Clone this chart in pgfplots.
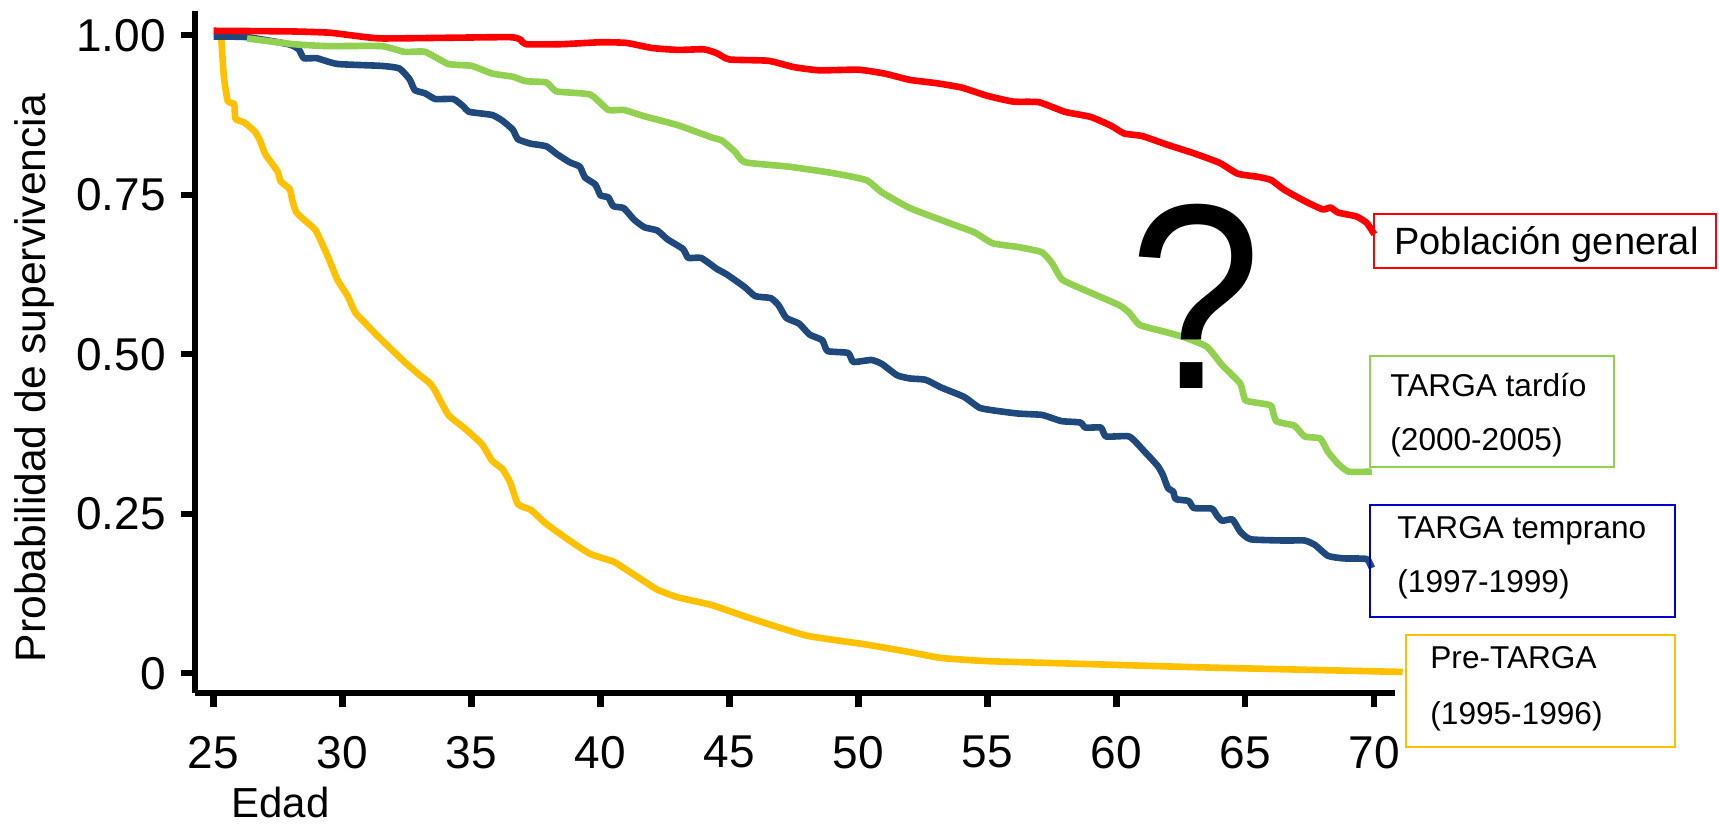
\documentclass[border=0pt]{standalone}
\usepackage{fontspec}
\setmainfont{Liberation Sans}
\usepackage{pgfplots}
\pgfplotsset{compat=1.18}
\definecolor{cred}{HTML}{FF0000}
\definecolor{cgreen}{HTML}{92D050}
\definecolor{cblue}{HTML}{1F497D}
\definecolor{cyellow}{HTML}{FFC000}
\definecolor{bblue}{HTML}{0000CC}
\begin{document}
\begin{tikzpicture}
\path[use as bounding box] (-97.5pt,-70.5pt) rectangle (762pt,343pt);
\begin{axis}[
 at={(0pt,-3.5pt)}, anchor=south west,
 scale only axis, width=600pt, height=341pt,
 xmin=24.28, xmax=70.8, ymin=-0.031, ymax=1.038,
 axis lines=left, axis line style={-, line width=3.1pt},
 tick align=outside, major tick length=7pt,
 every tick/.style={line width=3.1pt, black},
 xtick={25,30,...,70}, ytick={0,0.25,0.5,0.75,1},
 yticklabels={0,0.25,0.50,0.75,1.00},
 /pgf/number format/assume math mode=true,
 tick label style={font=\fontsize{23}{23}\selectfont},
 xticklabel style={yshift=-11pt},
 yticklabel style={xshift=-4pt},
 clip=false,
 every axis plot/.append style={line width=3.3pt, line join=round, smooth, tension=0.3},
]
\addplot[cyellow] coordinates {
(25.3,0.995)(25.4,0.935)(25.55,0.897)(25.8,0.892)(25.85,0.869)(26.2,0.863)(26.6,0.849)(26.8,0.835)(27.0,0.814)(27.3,0.797)(27.5,0.785)(27.6,0.771)(27.95,0.759)(28.05,0.742)(28.2,0.723)(28.5,0.711)(28.96,0.694)(29.4,0.656)(29.8,0.617)(30.2,0.591)(30.5,0.565)(30.9,0.548)(31.3,0.531)(32.4,0.488)(33.0,0.467)(33.4,0.454)(33.6,0.442)(34.1,0.405)(34.7,0.385)(35.4,0.359)(35.8,0.333)(36.2,0.320)(36.5,0.299)(36.8,0.265)(37.3,0.256)(37.9,0.234)(38.8,0.208)(39.6,0.187)(40.5,0.175)(40.9,0.165)(41.7,0.144)(42.2,0.131)(43.0,0.119)(44.3,0.107)(45.6,0.089)(46.9,0.072)(48.1,0.058)(50.3,0.045)(52.0,0.033)(53.2,0.024)(55.0,0.019)(59.2,0.014)(63.5,0.009)(71.1,0.002)};
\addplot[cblue] coordinates {
(25.0,0.998)(26.3,0.997)(27.9,0.986)(28.3,0.978)(28.5,0.964)(29.0,0.964)(29.8,0.955)(31.5,0.952)(32.2,0.948)(32.6,0.931)(32.8,0.914)(33.2,0.909)(33.6,0.900)(34.3,0.900)(34.7,0.888)(34.9,0.880)(35.8,0.875)(36.2,0.866)(36.6,0.852)(36.8,0.837)(37.3,0.830)(37.9,0.826)(38.3,0.814)(38.8,0.801)(39.2,0.794)(39.4,0.777)(39.8,0.766)(40.0,0.749)(40.3,0.746)(40.5,0.732)(40.9,0.729)(41.3,0.711)(41.7,0.699)(42.2,0.694)(42.6,0.680)(43.2,0.665)(43.4,0.651)(43.9,0.651)(44.5,0.634)(44.9,0.625)(45.6,0.605)(46.0,0.591)(46.6,0.588)(46.9,0.577)(47.2,0.557)(47.7,0.548)(48.1,0.531)(48.6,0.522)(48.8,0.505)(49.6,0.502)(49.8,0.488)(50.5,0.491)(50.9,0.485)(51.5,0.467)(52.0,0.462)(52.6,0.460)(53.2,0.448)(54.1,0.433)(54.7,0.416)(55.4,0.411)(56.2,0.407)(57.1,0.405)(57.5,0.400)(57.9,0.395)(58.6,0.393)(58.8,0.385)(59.4,0.385)(59.6,0.371)(60.5,0.371)(61.1,0.347)(61.6,0.325)(61.8,0.311)(62.0,0.290)(62.2,0.285)(62.3,0.273)(62.8,0.270)(63.0,0.259)(63.7,0.258)(63.9,0.247)(64.1,0.239)(64.5,0.241)(64.8,0.222)(65.2,0.210)(66.5,0.208)(67.3,0.208)(67.7,0.201)(68.2,0.184)(68.8,0.180)(69.7,0.179)(69.9,0.165)};
\addplot[cgreen] coordinates {
(26.3,0.995)(28.1,0.986)(29.4,0.983)(31.5,0.983)(32.4,0.974)(33.2,0.974)(34.1,0.955)(35.0,0.952)(35.8,0.940)(36.6,0.935)(37.1,0.928)(37.9,0.926)(38.3,0.912)(39.6,0.907)(40.3,0.883)(40.9,0.883)(41.7,0.873)(43.0,0.859)(44.3,0.840)(44.7,0.835)(45.2,0.818)(45.6,0.801)(47.3,0.794)(49.0,0.784)(50.3,0.773)(50.9,0.754)(52.0,0.729)(53.7,0.703)(54.5,0.691)(55.2,0.674)(56.2,0.668)(57.1,0.660)(57.5,0.643)(57.9,0.617)(58.8,0.600)(60.1,0.577)(60.5,0.565)(60.9,0.546)(61.8,0.536)(62.6,0.527)(63.5,0.512)(64.1,0.483)(64.8,0.454)(65.0,0.428)(65.6,0.423)(66.0,0.419)(66.2,0.395)(66.9,0.388)(67.3,0.371)(67.9,0.368)(68.2,0.347)(68.6,0.328)(69.0,0.316)(69.9,0.316)};
\addplot[cred] coordinates {
(25.0,1.007)(28,1.006)(29.5,1.004)(30.5,0.999)(31.5,0.995)(34,0.996)(36.5,0.997)(36.9,0.993)(37.1,0.986)(38.5,0.986)(40,0.989)(41,0.988)(42,0.980)(43,0.977)(44,0.978)(44.5,0.972)(45,0.962)(46.5,0.960)(47.5,0.950)(48.5,0.945)(50,0.946)(51,0.940)(52,0.930)(53,0.925)(54,0.918)(55,0.905)(56,0.896)(57,0.895)(58,0.880)(59,0.872)(59.8,0.858)(60.3,0.846)(61,0.842)(62,0.828)(63,0.815)(64,0.800)(64.7,0.783)(65.5,0.778)(66,0.773)(66.5,0.758)(67.3,0.740)(68,0.727)(68.3,0.730)(68.6,0.722)(69.3,0.716)(69.7,0.706)(70,0.688)};
\end{axis}
\node[anchor=base west, font=\fontsize{21}{21}\selectfont, inner sep=0] at (18pt,-65.5pt) {Edad};
\node[rotate=90, font=\fontsize{21.3}{21.3}\selectfont, inner sep=0] at (-80.5pt,154pt) {Probabilidad de supervivencia};
\node[anchor=base, font=\fontsize{132}{132}\selectfont, inner sep=0] at (500.5pt,149pt) {\scalebox{0.9}[1]{?}};
\draw[cred, line width=1pt] (589.5pt,209pt) rectangle (760.5pt,236pt);
\node[anchor=base west, font=\fontsize{19}{19}\selectfont, inner sep=0] at (599.5pt,216pt) {Población general};
\draw[cgreen, line width=1pt] (587.5pt,109.5pt) rectangle (709.5pt,165pt);
\node[anchor=base west, font=\fontsize{15.8}{15.8}\selectfont, inner sep=0] at (597.5pt,145pt) {TARGA tardío};
\node[anchor=base west, font=\fontsize{15.8}{15.8}\selectfont, inner sep=0] at (597.5pt,118pt) {(2000-2005)};
\draw[bblue, line width=1pt] (587.5pt,34.5pt) rectangle (740pt,90.5pt);
\node[anchor=base west, font=\fontsize{15.8}{15.8}\selectfont, inner sep=0] at (601pt,74pt) {TARGA temprano};
\node[anchor=base west, font=\fontsize{15.8}{15.8}\selectfont, inner sep=0] at (601pt,47pt) {(1997-1999)};
\draw[cyellow, line width=1pt] (605.5pt,-30.5pt) rectangle (740pt,25.5pt);
\node[anchor=base west, font=\fontsize{15.8}{15.8}\selectfont, inner sep=0] at (617.5pt,9pt) {Pre-TARGA};
\node[anchor=base west, font=\fontsize{15.8}{15.8}\selectfont, inner sep=0] at (617.5pt,-19pt) {(1995-1996)};
\end{tikzpicture}
\end{document}
